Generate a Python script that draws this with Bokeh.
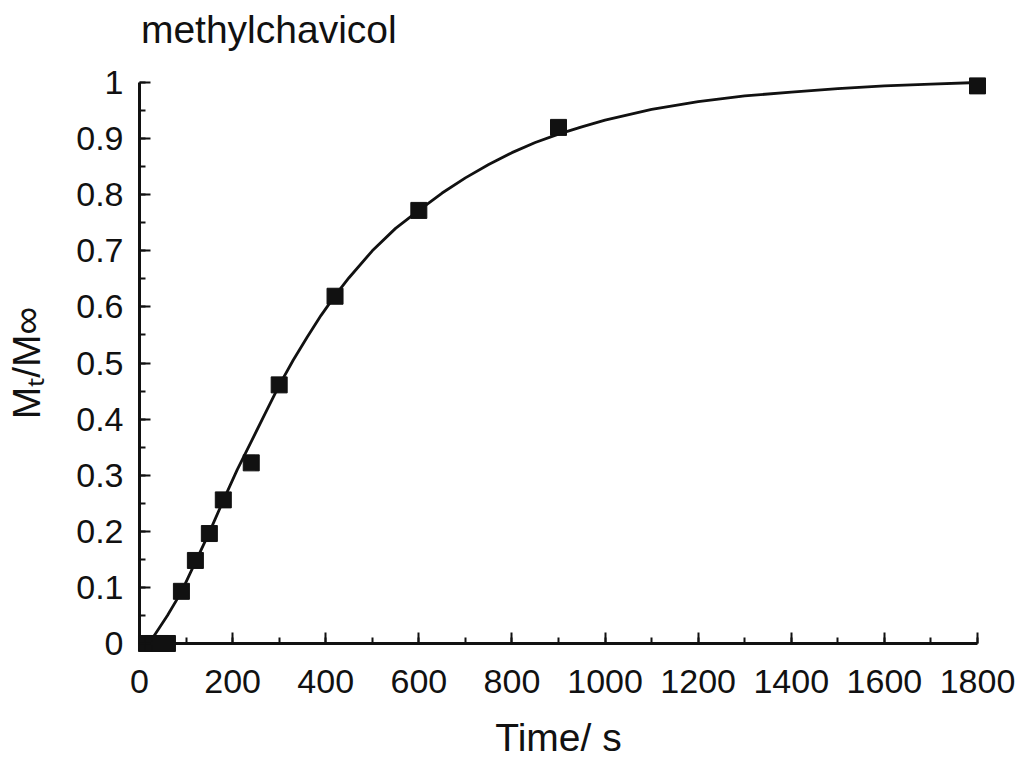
from bokeh.plotting import figure
from bokeh.models import Range1d, FixedTicker, ColumnDataSource, LinearAxis, Label
from bokeh.embed import file_html
from bokeh.resources import INLINE

# Measured uptake of methylchavicol
time_s = [15, 30, 45, 60, 90, 120, 150, 180, 240, 300, 420, 600, 900, 1800]
uptake = [0.0, 0.0, 0.0, 0.0, 0.093, 0.148, 0.196, 0.256, 0.322, 0.461, 0.619,
          0.772, 0.920, 0.994]

# Fitted model curve
fit_t = [15, 30, 60, 90, 120, 150, 180, 210, 240, 270, 300, 330, 360, 390,
         420, 450, 500, 550, 600, 650, 700, 750, 800, 850, 900, 950, 1000,
         1100, 1200, 1300, 1400, 1500, 1600, 1700, 1800]
fit_y = [0.0, 0.012, 0.05, 0.092, 0.145, 0.198, 0.255, 0.31, 0.36, 0.41,
         0.46, 0.505, 0.546, 0.585, 0.62, 0.652, 0.70, 0.74, 0.772, 0.803,
         0.83, 0.854, 0.875, 0.893, 0.908, 0.921, 0.933, 0.952, 0.966,
         0.976, 0.983, 0.989, 0.994, 0.997, 1.0]

# Axis ticks and labels
x_ticks = [0, 200, 400, 600, 800, 1000, 1200, 1400, 1600, 1800]
x_minor = [0, 100, 200, 300, 400, 500, 600, 700, 800, 900, 1000, 1100, 1200,
           1300, 1400, 1500, 1600, 1700, 1800]
y_ticks = [0.0, 0.1, 0.2, 0.3, 0.4, 0.5, 0.6, 0.7, 0.8, 0.9, 1.0]
y_labels = ["0", "0.1", "0.2", "0.3", "0.4", "0.5", "0.6", "0.7", "0.8",
            "0.9", "1"]
y_minor = [0.0, 0.05, 0.1, 0.15, 0.2, 0.25, 0.3, 0.35, 0.4, 0.45, 0.5, 0.55,
           0.6, 0.65, 0.7, 0.75, 0.8, 0.85, 0.9, 0.95, 1.0]

FONT = "Liberation Sans"
INK = "#111111"

# The data frame spans the whole canvas; the axes cross at the origin
p = figure(
    width=1023, height=759,
    min_border_left=0, min_border_right=0,
    min_border_top=0, min_border_bottom=0,
    x_range=Range1d(-298.6, 1898.8), y_range=Range1d(-0.2068, 1.1462),
    x_axis_type=None, y_axis_type=None,
    output_backend="svg", toolbar_location=None,
    background_fill_color="white", border_fill_color="white",
)
p.outline_line_color = None
p.grid.visible = False


def origin_axis(bounds, ticker):
    ax = LinearAxis(fixed_location=0, bounds=bounds, ticker=ticker)
    ax.axis_line_width = 3
    ax.axis_line_color = INK
    ax.major_tick_line_color = INK
    ax.minor_tick_line_color = INK
    ax.major_tick_line_width = 2
    ax.minor_tick_line_width = 2
    ax.major_tick_in = 11
    ax.major_tick_out = 0
    ax.minor_tick_in = 6
    ax.minor_tick_out = 0
    ax.major_label_text_font = FONT
    ax.major_label_text_font_size = "34px"
    ax.major_label_text_color = INK
    ax.axis_label_text_font = FONT
    ax.axis_label_text_font_style = "normal"
    ax.axis_label_text_color = INK
    return ax


xa = origin_axis((0, 1800), FixedTicker(ticks=x_ticks, minor_ticks=x_minor))
xa.major_label_standoff = 27
xa.axis_label = "Time/ s"
xa.axis_label_text_font_size = "39px"
xa.axis_label_standoff = 19
p.add_layout(xa, "below")

ya = origin_axis((0, 1), FixedTicker(ticks=y_ticks, minor_ticks=y_minor))
ya.major_label_overrides = dict(zip(y_ticks, y_labels))
ya.major_label_standoff = 16
ya.axis_label = "M\u209c/M\u221e"
ya.axis_label_text_font_size = "39px"
ya.axis_label_standoff = 25
p.add_layout(ya, "left")

fit = ColumnDataSource(dict(t=fit_t, y=fit_y))
pts = ColumnDataSource(dict(t=time_s, y=uptake))
p.line("t", "y", source=fit, line_color=INK, line_width=2.8)
p.scatter("t", "y", source=pts, marker="square", size=16,
          fill_color=INK, line_color=INK)

p.add_layout(Label(x=3, y=1.0945, text="methylchavicol", text_font=FONT,
                   text_font_size="39px", text_color=INK,
                   text_baseline="alphabetic"))

open("out.html", "w").write(file_html(p, INLINE))
